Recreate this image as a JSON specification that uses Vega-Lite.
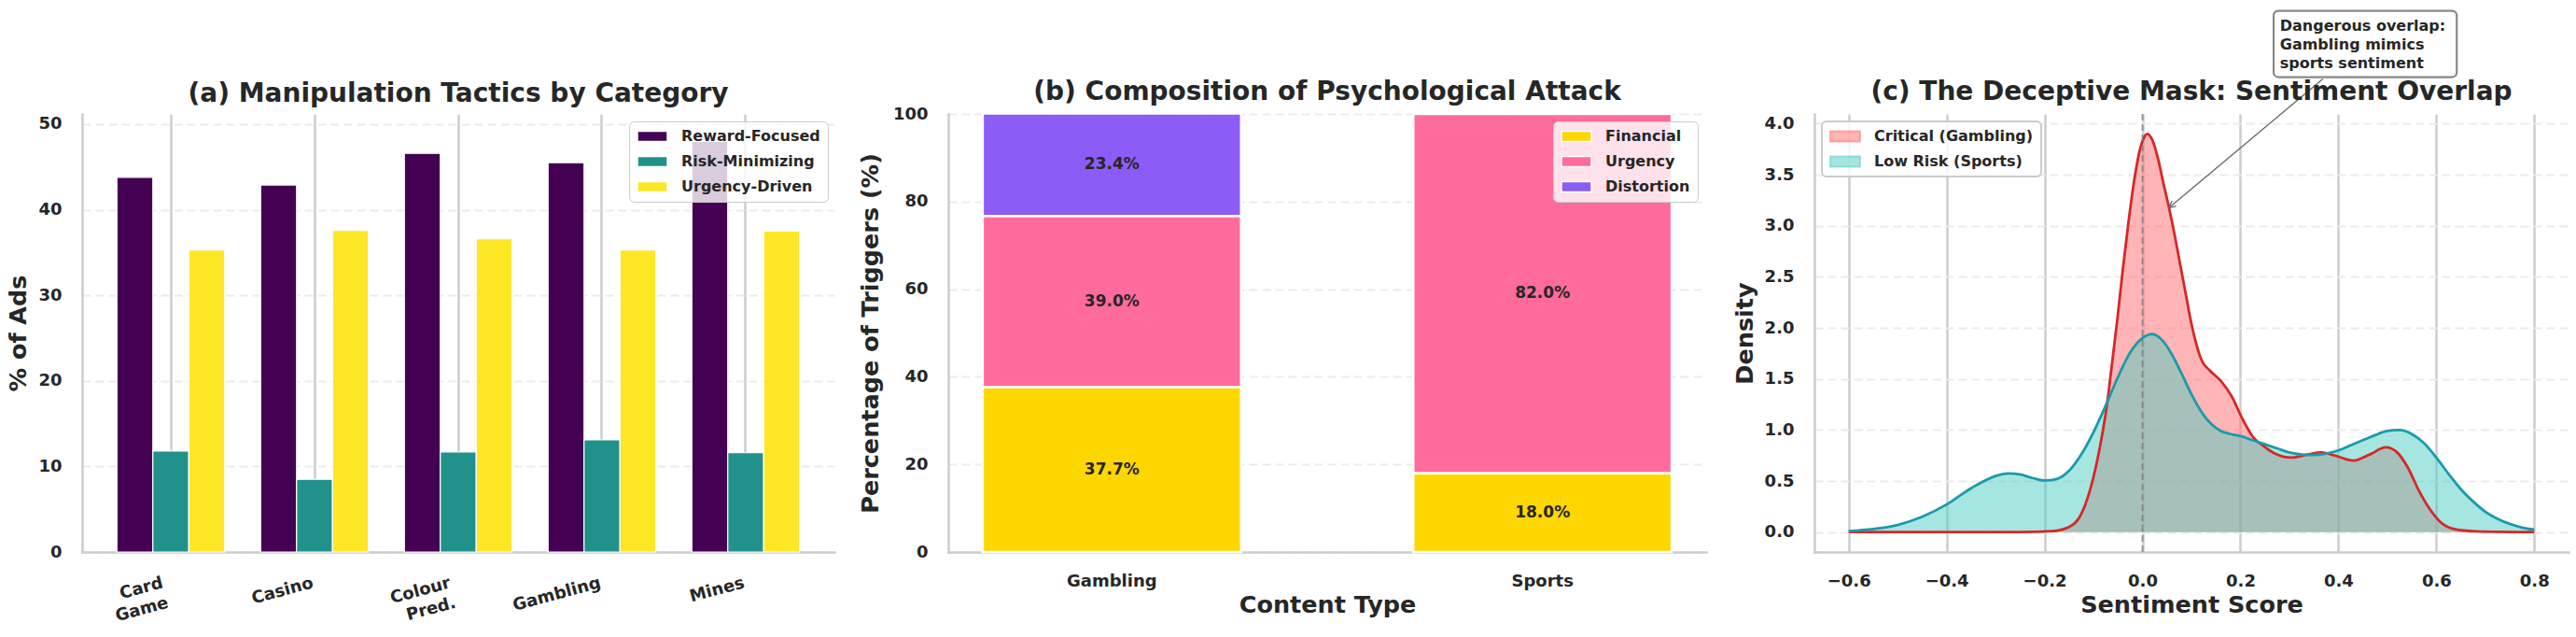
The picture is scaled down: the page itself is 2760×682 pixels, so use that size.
{
  "$schema": "https://vega.github.io/schema/vega-lite/v6.json",
  "background": "white",
  "padding": {"left": 7, "top": 10, "right": 5, "bottom": 5},
  "config": {
    "font": "DejaVu Sans",
    "view": {"stroke": null},
    "axis": {
      "domainColor": "#cccccc", "domainWidth": 2.5, "domainCap": "square", "ticks": false, "tickSize": 0,
      "labelFont": "DejaVu Sans", "labelFontSize": 18, "labelFontWeight": "bold", "labelColor": "#262626", "labelPadding": 22,
      "titleFont": "DejaVu Sans", "titleFontSize": 25.5, "titleFontWeight": "bold", "titleColor": "#262626",
      "gridColor": "#ebebeb", "gridWidth": 2, "gridDash": [9, 5]
    },
    "axisX": {"grid": false},
    "title": {"font": "DejaVu Sans", "fontSize": 28, "fontWeight": "bold", "color": "#262626", "baseline": "alphabetic", "offset": 16, "anchor": "middle", "frame": "group"},
    "legend": {
      "labelFont": "DejaVu Sans", "labelFontSize": 16, "labelFontWeight": "bold", "labelColor": "#262626", "labelLimit": 400,
      "symbolType": "M-1,-0.35L1,-0.35L1,0.35L-1,0.35Z", "symbolSize": 1024, "labelOffset": 14, "rowPadding": 11, "clipHeight": 16,
      "fillColor": "rgba(255,255,255,0.8)", "strokeColor": "#cccccc", "cornerRadius": 5, "padding": 8
    }
  },
  "datasets": {
    "tactics": [
      {"category": "Card Game", "tactic": "Reward-Focused", "pct": 43.8},
      {"category": "Card Game", "tactic": "Risk-Minimizing", "pct": 11.8},
      {"category": "Card Game", "tactic": "Urgency-Driven", "pct": 35.3},
      {"category": "Casino", "tactic": "Reward-Focused", "pct": 42.9},
      {"category": "Casino", "tactic": "Risk-Minimizing", "pct": 8.5},
      {"category": "Casino", "tactic": "Urgency-Driven", "pct": 37.6},
      {"category": "Colour Pred.", "tactic": "Reward-Focused", "pct": 46.6},
      {"category": "Colour Pred.", "tactic": "Risk-Minimizing", "pct": 11.7},
      {"category": "Colour Pred.", "tactic": "Urgency-Driven", "pct": 36.6},
      {"category": "Gambling", "tactic": "Reward-Focused", "pct": 45.5},
      {"category": "Gambling", "tactic": "Risk-Minimizing", "pct": 13.1},
      {"category": "Gambling", "tactic": "Urgency-Driven", "pct": 35.3},
      {"category": "Mines", "tactic": "Reward-Focused", "pct": 48.0},
      {"category": "Mines", "tactic": "Risk-Minimizing", "pct": 11.6},
      {"category": "Mines", "tactic": "Urgency-Driven", "pct": 37.5}
    ],
    "triggers": [
      {"type": "Gambling", "trigger": "Financial", "ord": 1, "pct": 37.7},
      {"type": "Gambling", "trigger": "Urgency", "ord": 2, "pct": 39.0},
      {"type": "Gambling", "trigger": "Distortion", "ord": 3, "pct": 23.4},
      {"type": "Sports", "trigger": "Financial", "ord": 1, "pct": 18.0},
      {"type": "Sports", "trigger": "Urgency", "ord": 2, "pct": 82.0}
    ],
    "kde": [
      {"g": "Critical (Gambling)", "s": -0.6, "d": 0},
      {"g": "Critical (Gambling)", "s": -0.4, "d": 0},
      {"g": "Critical (Gambling)", "s": -0.25, "d": 0},
      {"g": "Critical (Gambling)", "s": -0.184, "d": 0.01},
      {"g": "Critical (Gambling)", "s": -0.15, "d": 0.05},
      {"g": "Critical (Gambling)", "s": -0.128, "d": 0.15},
      {"g": "Critical (Gambling)", "s": -0.106, "d": 0.43},
      {"g": "Critical (Gambling)", "s": -0.084, "d": 0.91},
      {"g": "Critical (Gambling)", "s": -0.073, "d": 1.23},
      {"g": "Critical (Gambling)", "s": -0.063, "d": 1.62},
      {"g": "Critical (Gambling)", "s": -0.051, "d": 2.10},
      {"g": "Critical (Gambling)", "s": -0.040, "d": 2.58},
      {"g": "Critical (Gambling)", "s": -0.029, "d": 3.02},
      {"g": "Critical (Gambling)", "s": -0.018, "d": 3.41},
      {"g": "Critical (Gambling)", "s": -0.006, "d": 3.73},
      {"g": "Critical (Gambling)", "s": 0.005, "d": 3.88},
      {"g": "Critical (Gambling)", "s": 0.010, "d": 3.90},
      {"g": "Critical (Gambling)", "s": 0.021, "d": 3.83},
      {"g": "Critical (Gambling)", "s": 0.032, "d": 3.65},
      {"g": "Critical (Gambling)", "s": 0.043, "d": 3.41},
      {"g": "Critical (Gambling)", "s": 0.054, "d": 3.18},
      {"g": "Critical (Gambling)", "s": 0.066, "d": 2.90},
      {"g": "Critical (Gambling)", "s": 0.077, "d": 2.62},
      {"g": "Critical (Gambling)", "s": 0.088, "d": 2.34},
      {"g": "Critical (Gambling)", "s": 0.099, "d": 2.06},
      {"g": "Critical (Gambling)", "s": 0.110, "d": 1.84},
      {"g": "Critical (Gambling)", "s": 0.121, "d": 1.68},
      {"g": "Critical (Gambling)", "s": 0.138, "d": 1.58},
      {"g": "Critical (Gambling)", "s": 0.160, "d": 1.48},
      {"g": "Critical (Gambling)", "s": 0.182, "d": 1.33},
      {"g": "Critical (Gambling)", "s": 0.204, "d": 1.11},
      {"g": "Critical (Gambling)", "s": 0.226, "d": 0.93},
      {"g": "Critical (Gambling)", "s": 0.248, "d": 0.84},
      {"g": "Critical (Gambling)", "s": 0.270, "d": 0.77},
      {"g": "Critical (Gambling)", "s": 0.304, "d": 0.73},
      {"g": "Critical (Gambling)", "s": 0.337, "d": 0.76},
      {"g": "Critical (Gambling)", "s": 0.365, "d": 0.78},
      {"g": "Critical (Gambling)", "s": 0.392, "d": 0.75},
      {"g": "Critical (Gambling)", "s": 0.431, "d": 0.70},
      {"g": "Critical (Gambling)", "s": 0.464, "d": 0.76},
      {"g": "Critical (Gambling)", "s": 0.497, "d": 0.83},
      {"g": "Critical (Gambling)", "s": 0.520, "d": 0.78},
      {"g": "Critical (Gambling)", "s": 0.542, "d": 0.63},
      {"g": "Critical (Gambling)", "s": 0.564, "d": 0.41},
      {"g": "Critical (Gambling)", "s": 0.586, "d": 0.23},
      {"g": "Critical (Gambling)", "s": 0.608, "d": 0.10},
      {"g": "Critical (Gambling)", "s": 0.636, "d": 0.03},
      {"g": "Critical (Gambling)", "s": 0.680, "d": 0.008},
      {"g": "Critical (Gambling)", "s": 0.8, "d": 0},
      {"g": "Low Risk (Sports)", "s": -0.6, "d": 0.01},
      {"g": "Low Risk (Sports)", "s": -0.55, "d": 0.03},
      {"g": "Low Risk (Sports)", "s": -0.5, "d": 0.07},
      {"g": "Low Risk (Sports)", "s": -0.45, "d": 0.15},
      {"g": "Low Risk (Sports)", "s": -0.4, "d": 0.27},
      {"g": "Low Risk (Sports)", "s": -0.35, "d": 0.43},
      {"g": "Low Risk (Sports)", "s": -0.3, "d": 0.55},
      {"g": "Low Risk (Sports)", "s": -0.275, "d": 0.575},
      {"g": "Low Risk (Sports)", "s": -0.25, "d": 0.565},
      {"g": "Low Risk (Sports)", "s": -0.225, "d": 0.53},
      {"g": "Low Risk (Sports)", "s": -0.2, "d": 0.505},
      {"g": "Low Risk (Sports)", "s": -0.175, "d": 0.52},
      {"g": "Low Risk (Sports)", "s": -0.15, "d": 0.6},
      {"g": "Low Risk (Sports)", "s": -0.125, "d": 0.76},
      {"g": "Low Risk (Sports)", "s": -0.1, "d": 0.98},
      {"g": "Low Risk (Sports)", "s": -0.075, "d": 1.24},
      {"g": "Low Risk (Sports)", "s": -0.05, "d": 1.52},
      {"g": "Low Risk (Sports)", "s": -0.025, "d": 1.76},
      {"g": "Low Risk (Sports)", "s": 0.0, "d": 1.9},
      {"g": "Low Risk (Sports)", "s": 0.02, "d": 1.94},
      {"g": "Low Risk (Sports)", "s": 0.04, "d": 1.88},
      {"g": "Low Risk (Sports)", "s": 0.06, "d": 1.74},
      {"g": "Low Risk (Sports)", "s": 0.08, "d": 1.55},
      {"g": "Low Risk (Sports)", "s": 0.1, "d": 1.35},
      {"g": "Low Risk (Sports)", "s": 0.12, "d": 1.18},
      {"g": "Low Risk (Sports)", "s": 0.14, "d": 1.06},
      {"g": "Low Risk (Sports)", "s": 0.16, "d": 0.99},
      {"g": "Low Risk (Sports)", "s": 0.18, "d": 0.96},
      {"g": "Low Risk (Sports)", "s": 0.2, "d": 0.94},
      {"g": "Low Risk (Sports)", "s": 0.225, "d": 0.9},
      {"g": "Low Risk (Sports)", "s": 0.25, "d": 0.86},
      {"g": "Low Risk (Sports)", "s": 0.275, "d": 0.82},
      {"g": "Low Risk (Sports)", "s": 0.3, "d": 0.78},
      {"g": "Low Risk (Sports)", "s": 0.325, "d": 0.76},
      {"g": "Low Risk (Sports)", "s": 0.35, "d": 0.755},
      {"g": "Low Risk (Sports)", "s": 0.375, "d": 0.77},
      {"g": "Low Risk (Sports)", "s": 0.4, "d": 0.8},
      {"g": "Low Risk (Sports)", "s": 0.425, "d": 0.85},
      {"g": "Low Risk (Sports)", "s": 0.45, "d": 0.9},
      {"g": "Low Risk (Sports)", "s": 0.475, "d": 0.95},
      {"g": "Low Risk (Sports)", "s": 0.5, "d": 0.99},
      {"g": "Low Risk (Sports)", "s": 0.525, "d": 1.0},
      {"g": "Low Risk (Sports)", "s": 0.55, "d": 0.96},
      {"g": "Low Risk (Sports)", "s": 0.575, "d": 0.87},
      {"g": "Low Risk (Sports)", "s": 0.6, "d": 0.73},
      {"g": "Low Risk (Sports)", "s": 0.625, "d": 0.57},
      {"g": "Low Risk (Sports)", "s": 0.65, "d": 0.42},
      {"g": "Low Risk (Sports)", "s": 0.675, "d": 0.3},
      {"g": "Low Risk (Sports)", "s": 0.7, "d": 0.2},
      {"g": "Low Risk (Sports)", "s": 0.725, "d": 0.13},
      {"g": "Low Risk (Sports)", "s": 0.75, "d": 0.08},
      {"g": "Low Risk (Sports)", "s": 0.775, "d": 0.045},
      {"g": "Low Risk (Sports)", "s": 0.8, "d": 0.025}
    ]
  },
  "spacing": 122,
  "bounds": "flush",
  "resolve": {"scale": {"color": "independent"}, "legend": {"color": "independent"}},
  "hconcat": [
    {
      "width": 806,
      "height": 469,
      "title": {"text": "(a) Manipulation Tactics by Category", "dy": 9},
      "data": {"name": "tactics"},
      "mark": {"type": "bar", "stroke": "white", "strokeWidth": 1.2},
      "encoding": {
        "x": {
          "field": "category", "type": "nominal",
          "sort": ["Card Game", "Casino", "Colour Pred.", "Gambling", "Mines"],
          "scale": {"paddingInner": 0.25, "paddingOuter": 0.242},
          "axis": {
            "title": null, "labelAngle": -15, "labelAlign": "right", "labelBaseline": "top", "labelPadding": 24,
            "labelExpr": "datum.label == 'Card Game' ? ['Card', 'Game'] : datum.label == 'Colour Pred.' ? ['Colour', 'Pred.'] : datum.label",
            "labelLineHeight": 22,
            "labelOffset": {"expr": "datum.value == 'Card Game' || datum.value == 'Colour Pred.' ? -11 : -4"},
            "grid": true, "gridDash": [], "gridColor": "#cccccc", "gridWidth": 2.5, "bandPosition": 0.5
          }
        },
        "xOffset": {"field": "tactic", "type": "nominal", "sort": ["Reward-Focused", "Risk-Minimizing", "Urgency-Driven"], "scale": {"paddingInner": 0, "paddingOuter": 0}},
        "y": {
          "field": "pct", "type": "quantitative",
          "scale": {"domain": [0, 51.2], "nice": false},
          "axis": {"title": "% of Ads", "values": [0, 10, 20, 30, 40, 50], "titlePadding": 8}
        },
        "color": {
          "field": "tactic", "type": "nominal",
          "scale": {"domain": ["Reward-Focused", "Risk-Minimizing", "Urgency-Driven"], "range": ["#440154", "#21918c", "#fde725"]},
          "legend": {"title": null, "orient": "none", "legendX": 586, "legendY": 8, "encode": {"legend": {"update": {"strokeWidth": {"value": 2}}}}}
        }
      }
    },
    {
      "spacing": 116,
      "bounds": "flush",
      "resolve": {"scale": {"color": "independent"}, "legend": {"color": "independent"}},
      "hconcat": [
        {
          "width": 812,
          "height": 469,
          "title": {"text": "(b) Composition of Psychological Attack", "dy": 16},
          "data": {"name": "triggers"},
          "transform": [
            {"stack": "pct", "groupby": ["type"], "sort": [{"field": "ord", "order": "ascending"}], "as": ["y0", "y1"]},
            {"calculate": "(datum.y0 + datum.y1) / 2", "as": "ymid"},
            {"calculate": "format(datum.pct, '.1f') + '%'", "as": "lbl"}
          ],
          "encoding": {
            "x": {
              "field": "type", "type": "nominal", "sort": ["Gambling", "Sports"],
              "scale": {"paddingInner": 0.4, "paddingOuter": 0.08},
              "axis": {"title": "Content Type", "labelAngle": 0, "labelPadding": 22, "titlePadding": 4}
            }
          },
          "layer": [
            {
              "mark": {"type": "bar", "stroke": "white", "strokeWidth": 2.5},
              "encoding": {
                "y": {
                  "field": "y0", "type": "quantitative",
                  "scale": {"domain": [0, 100], "nice": false},
                  "axis": {"title": "Percentage of Triggers (%)", "values": [0, 20, 40, 60, 80, 100], "titlePadding": 11}
                },
                "y2": {"field": "y1"},
                "color": {
                  "field": "trigger", "type": "nominal",
                  "scale": {"domain": ["Financial", "Urgency", "Distortion"], "range": ["#FFD700", "#FF6B9D", "#8B5CF6"]},
                  "legend": {"title": null, "orient": "none", "legendX": 648, "legendY": 8, "encode": {"legend": {"update": {"strokeWidth": {"value": 2}}}}}
                }
              }
            },
            {
              "mark": {"type": "text", "fontSize": 17, "fontWeight": "bold", "color": "#262626", "baseline": "middle", "align": "center"},
              "encoding": {
                "y": {"field": "ymid", "type": "quantitative"},
                "text": {"field": "lbl"}
              }
            }
          ]
        },
        {
          "width": 808,
          "height": 469,
          "title": {"text": "(c) The Deceptive Mask: Sentiment Overlap", "dy": 119},
          "layer": [
            {
              "data": {"name": "kde"},
              "transform": [{"filter": "datum.g == 'Critical (Gambling)'"}],
              "mark": {"type": "area", "fillOpacity": 0.5, "interpolate": "monotone"},
              "encoding": {
                "x": {
                  "field": "s", "type": "quantitative",
                  "scale": {"domain": [-0.67, 0.87], "nice": false, "zero": false},
                  "axis": {"title": "Sentiment Score", "values": [-0.6, -0.4, -0.2, 0, 0.2, 0.4, 0.6, 0.8], "format": ".1f", "grid": true, "gridDash": [], "gridColor": "#cccccc", "gridWidth": 2.5, "labelPadding": 22, "titlePadding": 4}
                },
                "y": {
                  "field": "d", "type": "quantitative",
                  "scale": {"domain": [-0.195, 4.095], "nice": false, "zero": false},
                  "axis": {"title": "Density", "values": [0, 0.5, 1, 1.5, 2, 2.5, 3, 3.5, 4], "format": ".1f", "titlePadding": 8}
                },
                "color": {
                  "field": "g", "type": "nominal",
                  "scale": {"domain": ["Critical (Gambling)", "Low Risk (Sports)"], "range": ["#ff6b6b", "#4ecdc4"]},
                  "legend": {
                    "title": null, "orient": "none", "legendX": 8, "legendY": 8,
                    "encode": {
                      "legend": {"update": {"strokeWidth": {"value": 2}}},
                      "symbols": {"update": {"fillOpacity": {"value": 0.5}, "strokeOpacity": {"value": 0.5}, "strokeWidth": {"value": 2}, "stroke": {"signal": "datum.value == 'Critical (Gambling)' ? '#ff6b6b' : '#4ecdc4'"}}}
                    }
                  }
                }
              }
            },
            {
              "data": {"name": "kde"},
              "transform": [{"filter": "datum.g == 'Low Risk (Sports)'"}],
              "mark": {"type": "area", "fillOpacity": 0.5, "interpolate": "monotone"},
              "encoding": {
                "x": {"field": "s", "type": "quantitative", "title": "Sentiment Score"},
                "y": {"field": "d", "type": "quantitative", "title": "Density"},
                "color": {"field": "g", "type": "nominal"}
              }
            },
            {
              "data": {"name": "kde"},
              "transform": [{"filter": "datum.g == 'Critical (Gambling)'"}],
              "mark": {"type": "line", "stroke": "#d62728", "strokeWidth": 2.8, "interpolate": "monotone"},
              "encoding": {
                "x": {"field": "s", "type": "quantitative", "title": "Sentiment Score"},
                "y": {"field": "d", "type": "quantitative", "title": "Density"}
              }
            },
            {
              "data": {"name": "kde"},
              "transform": [{"filter": "datum.g == 'Low Risk (Sports)'"}],
              "mark": {"type": "line", "stroke": "#1b9aaa", "strokeWidth": 2.8, "interpolate": "monotone"},
              "encoding": {
                "x": {"field": "s", "type": "quantitative", "title": "Sentiment Score"},
                "y": {"field": "d", "type": "quantitative", "title": "Density"}
              }
            },
            {
              "data": {"values": [{"s": 0}]},
              "mark": {"type": "rule", "strokeDash": [7, 4], "color": "#7f7f7f", "strokeWidth": 1.8, "opacity": 0.85},
              "encoding": {"x": {"field": "s", "type": "quantitative", "title": "Sentiment Score"}}
            },
            {
              "data": {"values": [{"s": 0.2678, "s2": 0.6417, "d": 5.105, "d2": 4.456}]},
              "mark": {"type": "rect", "fill": "white", "fillOpacity": 0.9, "stroke": "#888888", "strokeWidth": 2.2, "cornerRadius": 5},
              "encoding": {
                "x": {"field": "s", "type": "quantitative", "title": "Sentiment Score"},
                "x2": {"field": "s2"},
                "y": {"field": "d", "type": "quantitative", "title": "Density"},
                "y2": {"field": "d2"}
              }
            },
            {
              "data": {"values": [{"s": 0.3683, "d": 4.437, "s2": 0.054, "d2": 3.175}]},
              "mark": {"type": "rule", "color": "#666666", "strokeWidth": 1.3},
              "encoding": {
                "x": {"field": "s", "type": "quantitative", "title": "Sentiment Score"},
                "x2": {"field": "s2"},
                "y": {"field": "d", "type": "quantitative", "title": "Density"},
                "y2": {"field": "d2"}
              }
            },
            {
              "data": {"values": [{"s": 0.054, "d": 3.175}]},
              "mark": {"type": "point", "shape": "M-0.5,1L0,0L0.5,1", "filled": false, "stroke": "#666666", "strokeWidth": 1.3, "size": 205, "angle": 230, "opacity": 1},
              "encoding": {
                "x": {"field": "s", "type": "quantitative", "title": "Sentiment Score"},
                "y": {"field": "d", "type": "quantitative", "title": "Density"}
              }
            },
            {
              "data": {"values": [{"s": 0.2806, "d": 4.913, "note": "Dangerous overlap:\nGambling mimics\nsports sentiment"}]},
              "mark": {"type": "text", "align": "left", "baseline": "alphabetic", "fontSize": 16, "fontWeight": "bold", "color": "#262626", "lineBreak": "\n", "lineHeight": 20},
              "encoding": {
                "x": {"field": "s", "type": "quantitative", "title": "Sentiment Score"},
                "y": {"field": "d", "type": "quantitative", "title": "Density"},
                "text": {"field": "note"}
              }
            }
          ]
        }
      ]
    }
  ]
}
